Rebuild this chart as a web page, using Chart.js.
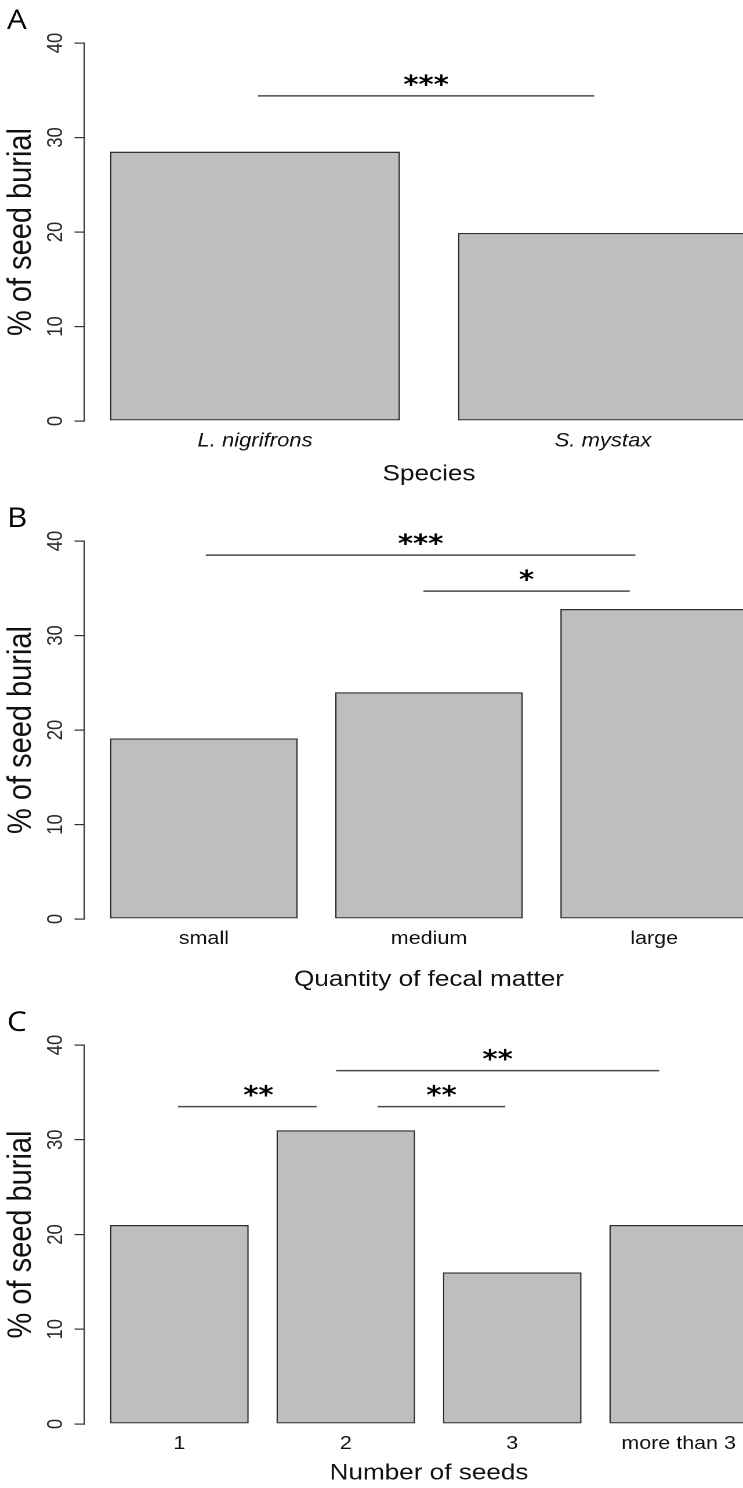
<!DOCTYPE html>
<html>
<head>
<meta charset="utf-8">
<script src="https://cdn.jsdelivr.net/npm/chart.js@4.4.1/dist/chart.umd.min.js"></script>
<style>
  html, body { margin: 0; padding: 0; background: #fff; overflow: hidden; }
  body { width: 743px; height: 1488px; position: relative; }
  canvas { position: absolute; left: 0; transform: scaleX(1.16); transform-origin: 0 0; }
</style>
</head>
<body>
<canvas id="chartA" width="690" height="500" style="top:0px"></canvas>
<canvas id="chartB" width="690" height="500" style="top:500px"></canvas>
<canvas id="chartC" width="690" height="488" style="top:1000px"></canvas>
<script>
// the published figure is widened horizontally, so the canvases are too
const STRETCH = 1.16;

const speciesLabels = ['L. nigrifrons', 'S. mystax'];
const speciesBurial = [28.5, 19.9];
const fecalLabels = ['small', 'medium', 'large'];
const fecalBurial = [19.1, 24.0, 32.8];
const seedLabels = ['1', '2', '3', 'more than 3'];
const seedBurial = [21.0, 31.0, 16.0, 21.0];
const yTicks = [0, 10, 20, 30, 40];

// significance brackets: [from, to (bar units), height (%), stars, optional star x]
const speciesSig = [[0.71, 1.87, 34.4, '***']];
const fecalSig = [[0.71, 3.0, 38.5, '***'], [1.87, 2.97, 34.7, '*']];
const seedSig = [[0.69, 1.69, 33.5, '**', 1.27], [2.13, 3.05, 33.5, '**'], [1.83, 4.16, 37.3, '**']];

Chart.defaults.font.family = '"Liberation Sans", Arial, sans-serif';
Chart.defaults.color = '#111';

const panels = [
    { id: 'chartA', letter: 'A', labels: speciesLabels, values: speciesBurial, sig: speciesSig,
      title: 'Species', italic: true, labelSize: 19, top: 43, axisH: 79, titlePad: 12.4 },
    { id: 'chartB', letter: 'B', labels: fecalLabels, values: fecalBurial, sig: fecalSig,
      title: 'Quantity of fecal matter', italic: false, labelSize: 18.5, top: 41, axisH: 81, titlePad: 6.8 },
    { id: 'chartC', letter: 'C', labels: seedLabels, values: seedBurial, sig: seedSig,
      title: 'Number of seeds', italic: false, labelSize: 18.5, top: 45, axisH: 64, titlePad: 1.4 }
];

// letter, rotated y tick labels and the stars above the brackets
const panelDecor = {
    id: 'panelDecor',
    afterDraw(chart, args, opts) {
        const { ctx, chartArea } = chart;
        const x = chart.scales.x, y = chart.scales.y;
        ctx.save();
        ctx.fillStyle = '#000';
        ctx.font = '27px "Open Sans", sans-serif';
        ctx.textAlign = 'left';
        ctx.textBaseline = 'alphabetic';
        ctx.fillText(opts.letter, 6, chartArea.top - 14);

        ctx.fillStyle = '#2a2a2a';
        ctx.font = '18.5px "Liberation Sans", Arial, sans-serif';
        ctx.textAlign = 'center';
        y.ticks.forEach(t => {
            ctx.save();
            ctx.translate(62 / STRETCH, y.getPixelForValue(t.value));
            ctx.rotate(-Math.PI / 2);
            ctx.fillText(String(t.value), 0, 0);
            ctx.restore();
        });

        ctx.fillStyle = '#000';
        ctx.font = 'bold 25px "DejaVu Sans", sans-serif';
        opts.sig.forEach(s => {
            const mid = s[4] !== undefined ? s[4] : (s[0] + s[1]) / 2;
            ctx.fillText(s[3], x.getPixelForValue(mid), y.getPixelForValue(s[2]) - 3);
        });
        ctx.restore();
    }
};

function makePanel(p) {
    const n = p.labels.length;
    const centers = p.labels.map((l, i) => 0.7 + 1.2 * i);
    // R barplot limits: bars of width 1 with space 0.2, widened by 4%
    const ext = 0.04 * (1.2 * n - 0.2);
    const canvas = document.getElementById(p.id);

    const datasets = [{
        type: 'bar',
        data: p.values.map((v, i) => ({ x: centers[i], y: v })),
        backgroundColor: '#bebebe',
        borderColor: '#2e2e2e',
        borderWidth: 1.3,
        borderSkipped: false,
        barPercentage: 1,
        categoryPercentage: 1 / 1.2
    }];
    p.sig.forEach(s => {
        datasets.push({
            type: 'line',
            data: [{ x: s[0], y: s[2] }, { x: s[1], y: s[2] }],
            borderColor: '#4a4a4a',
            borderWidth: 1.5,
            pointRadius: 0,
            clip: false
        });
    });

    return new Chart(canvas.getContext('2d'), {
        type: 'bar',
        data: { datasets: datasets },
        options: {
            responsive: false,
            animation: false,
            devicePixelRatio: 2,
            layout: { padding: { top: p.top, right: canvas.width - 773.5 / STRETCH, left: 0, bottom: 0 } },
            plugins: {
                legend: { display: false },
                tooltip: { enabled: false },
                panelDecor: { letter: p.letter, sig: p.sig }
            },
            scales: {
                x: {
                    type: 'linear',
                    offset: false,
                    min: 0.2 - ext,
                    max: 1.2 * n + ext,
                    grid: { display: false, drawTicks: false, offset: false },
                    border: { display: false },
                    afterBuildTicks: s => { s.ticks = centers.map(v => ({ value: v })); },
                    ticks: {
                        autoSkip: false,
                        maxRotation: 0,
                        padding: 9,
                        color: '#111',
                        font: { size: p.labelSize, style: p.italic ? 'italic' : 'normal' },
                        callback: (v, i) => p.labels[i]
                    },
                    title: {
                        display: true,
                        text: p.title,
                        color: '#111',
                        font: { size: 22.5 },
                        padding: { top: 0, bottom: p.titlePad }
                    },
                    afterFit: s => { s.height = p.axisH; }
                },
                y: {
                    min: 0,
                    max: 40,
                    afterBuildTicks: s => { s.ticks = yTicks.map(v => ({ value: v })); },
                    ticks: { display: false },
                    grid: { drawOnChartArea: false, drawTicks: true, tickLength: 10 / STRETCH, color: '#333', lineWidth: 1.2 },
                    border: { display: true, color: '#333', width: 1.2 },
                    title: {
                        display: true,
                        text: '% of seed burial',
                        color: '#111',
                        font: { size: 29 },
                        padding: { top: 1, bottom: 0 }
                    },
                    afterFit: s => { s.width = 84.5 / STRETCH; }
                }
            }
        },
        plugins: [panelDecor]
    });
}

panels.forEach(makePanel);
</script>
</body>
</html>
